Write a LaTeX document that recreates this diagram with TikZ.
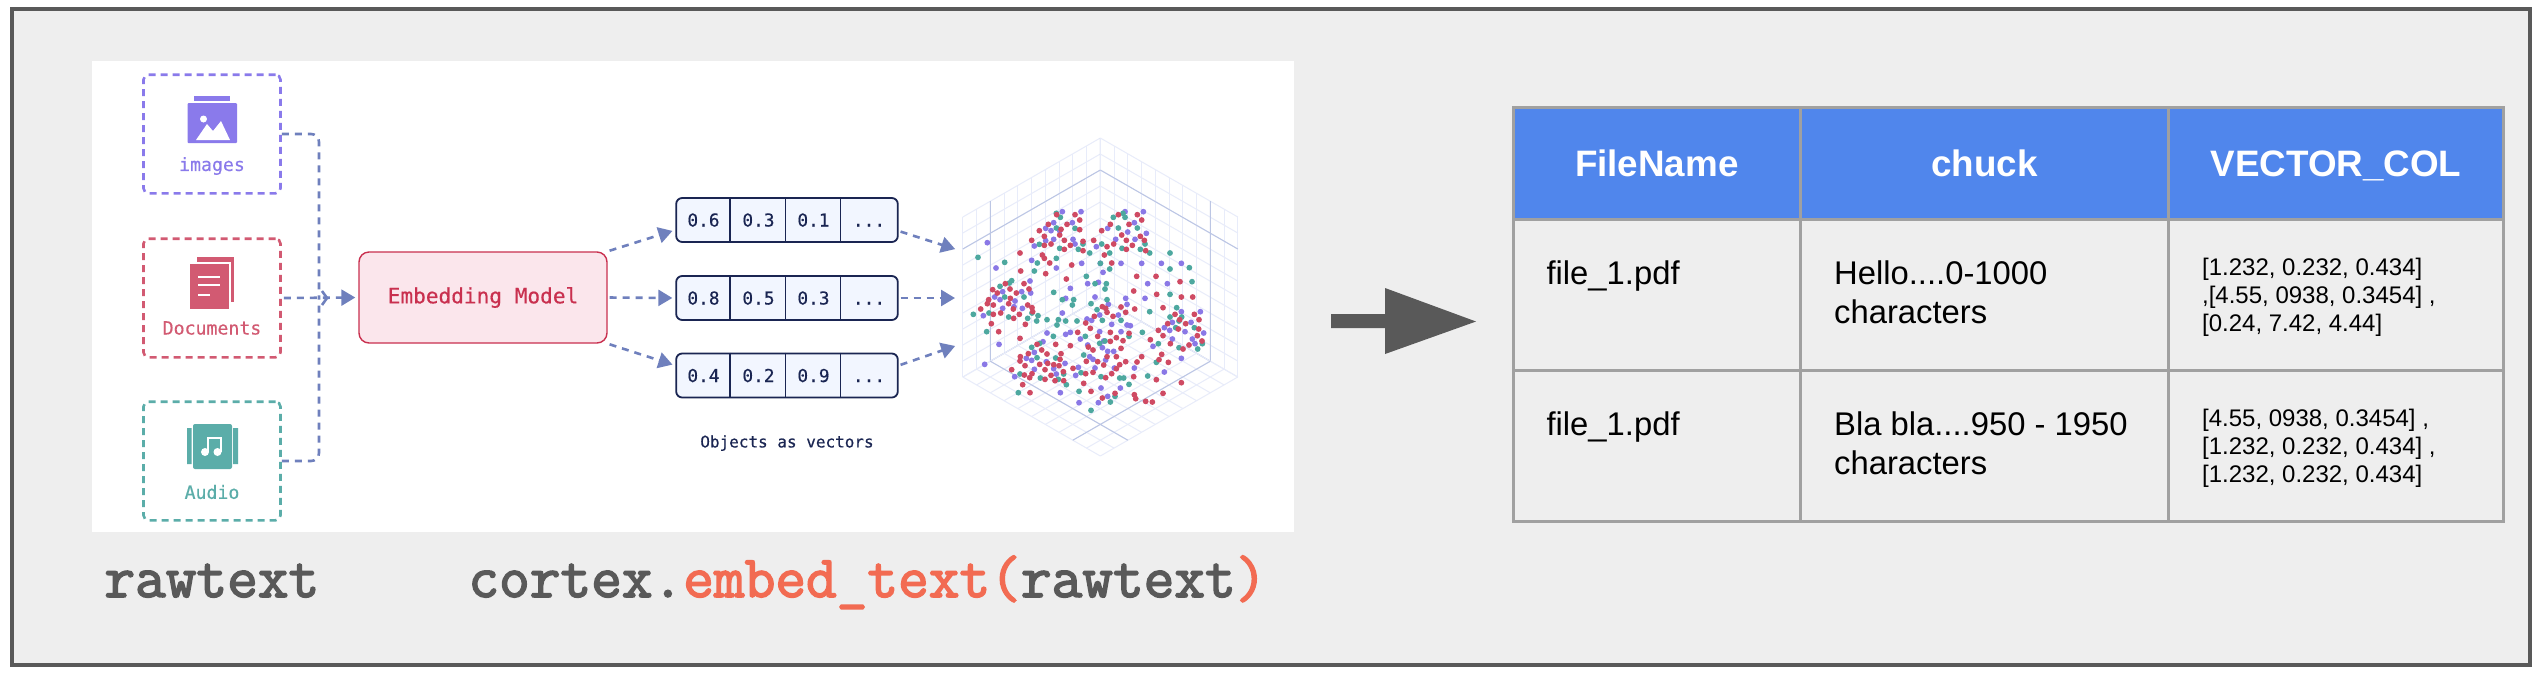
\documentclass[tikz,border=0pt]{standalone}
\usepackage{fontspec}
\usepackage{xcolor}
\usetikzlibrary{arrows.meta, positioning}
\setmainfont{Liberation Sans}
\newfontfamily\boxfont[FakeBold=0.4]{DejaVu Sans Mono}
\newfontfamily\codefont[FakeBold=2.6]{Latin Modern Mono}
\definecolor{panelGray}{HTML}{EEEEEE}
\definecolor{frameGray}{HTML}{595959}
\definecolor{lineGray}{HTML}{A0A0A0}
\definecolor{headBlue}{HTML}{5086EC}
\definecolor{codeRed}{HTML}{F26B52}
\definecolor{flowBlue}{HTML}{6F80BD}
\definecolor{imgPurple}{HTML}{8A7AEB}
\definecolor{docRed}{HTML}{D25A72}
\definecolor{audTeal}{HTML}{5BADA9}
\definecolor{modelRed}{HTML}{C9304F}
\definecolor{modelFill}{HTML}{FBE6EC}
\definecolor{vecNavy}{HTML}{1A2552}
\definecolor{vecFill}{HTML}{F2F6FF}
\definecolor{gridFaint}{HTML}{E8ECFA}
\definecolor{gridStrong}{HTML}{BCC6E4}
\definecolor{dotPurple}{HTML}{8A78E6}
\definecolor{dotTeal}{HTML}{4DA89F}
\definecolor{dotRed}{HTML}{CF4A63}

\begin{document}
% all coordinates are pixels of the picture, y going down
\begin{tikzpicture}[
    x=0.5pt, y=-0.5pt,
    source/.style={draw, rounded corners=2.5pt, line width=1.3pt, dash pattern=on 3.5pt off 2.5pt, minimum width=68.5pt, minimum height=59.3pt},
    srclabel/.style={font=\boxfont\fontsize{9.1}{11}\selectfont, inner sep=0pt},
    flow/.style={draw=flowBlue, line width=1.3pt, dash pattern=on 3.5pt off 3pt},
    flowtip/.style={flow, -{Triangle[length=7pt,width=8pt]}, shorten >=1.5pt, shorten <=1pt},
    vecbox/.style={draw=vecNavy, fill=vecFill, line width=0.9pt, rounded corners=3pt, minimum width=110.8pt, minimum height=22pt},
    vecval/.style={font=\boxfont\fontsize{8.9}{11}\selectfont, text=vecNavy, inner sep=0pt, text height=6.5pt, text depth=0pt},
    cell/.style={draw=lineGray, line width=1.5pt, minimum height=75.5pt, inner sep=0pt},
    headcell/.style={cell, fill=headBlue, minimum height=56pt, text=white, text height=13.2pt, text depth=0pt, font=\bfseries\fontsize{18.4}{22}\selectfont},
    celltext/.style={anchor=north west, align=left, inner sep=0pt, font=\fontsize{16.4}{19.7}\selectfont},
    vectext/.style={anchor=north west, align=left, inner sep=0pt, font=\fontsize{12}{14}\selectfont},
    code/.style={anchor=base west, inner sep=0pt, text=frameGray, font=\codefont\fontsize{29.8}{32}\selectfont},
]
    \useasboundingbox (0,0) rectangle (2536,676);
    \node[draw=frameGray, fill=panelGray, line width=2pt, minimum width=1258.75pt, minimum height=328pt, inner sep=0pt] (frame) at (1270.75,337) {};
    \node[fill=white, minimum width=601pt, minimum height=235.5pt, inner sep=0pt] (panel) at (693,296.5) {};

    % sources
    \node[source, draw=imgPurple] (imgbox) at (212,134) {};
    \node[source, draw=docRed] (docbox) at (212,298) {};
    \node[source, draw=audTeal] (audbox) at (212,461) {};
    \node[srclabel, text=imgPurple] (imglabel) at (212,166) {images};
    \node[srclabel, text=docRed] (doclabel) at (212,328) {Documents};
    \node[srclabel, text=audTeal] (audlabel) at (212,492) {Audio};

    % image icon
    \fill[imgPurple] (194,96) rectangle (230,101);
    \fill[imgPurple, rounded corners=0.5pt] (187.5,103) rectangle (237,143);
    \fill[white] (203.5,119) circle (3.5);
    \fill[white] (196,140) -- (207,124) -- (213,131) -- (221,121) -- (230,140) -- cycle;
    % document icon
    \fill[docRed] (197,257) rectangle (234,302);
    \fill[white] (188.5,262) rectangle (230.5,311);
    \fill[docRed] (190,264) rectangle (229,309);
    \draw[white, line width=0.9pt] (198,277) -- (220,277) (198,285) -- (220,285) (198,295) -- (210,295);
    % audio icon
    \fill[audTeal] (187,428) rectangle (191.5,464) (233,428) rectangle (238,464);
    \fill[audTeal, rounded corners=1pt] (193,424) rectangle (232,469);
    \fill[white] (205,452) circle (4) (217.5,452) circle (4);
    \draw[white, line width=1pt] (208,452) -- (208,438) -- (221,438) -- (221,452);

    % model
    \node[draw=modelRed, fill=modelFill, line width=0.7pt, rounded corners=5pt, minimum width=124pt, minimum height=45.5pt, text=modelRed, font=\boxfont\fontsize{10.55}{13}\selectfont] (embed) at (483,297.5) {Embedding Model};

    \coordinate (merge) at (319,298);
    \draw[flow, rounded corners=4pt] (imgbox.east) -| (merge);
    \draw[flow, rounded corners=4pt] (audbox.east) -| (merge);
    \draw[flowtip] (docbox.east) -- (embed.west);
    \draw[flowBlue, line width=1.3pt] ([shift={(3,-7)}]merge) -- ([shift={(8,0)}]merge) -- ([shift={(3,7)}]merge);

    % vectors
    \foreach \row/\y/\a/\b/\c in {1/220/0.6/0.3/0.1, 2/298/0.8/0.5/0.3, 3/375.5/0.4/0.2/0.9} {
        \node[vecbox] (vec\row) at (787,\y) {};
        \draw[vecNavy, line width=0.7pt] ([xshift=27.3pt]vec\row.north west) -- ([xshift=27.3pt]vec\row.south west)
            ([xshift=55pt]vec\row.north west) -- ([xshift=55pt]vec\row.south west)
            ([xshift=82.6pt]vec\row.north west) -- ([xshift=82.6pt]vec\row.south west);
        \node[vecval] (val\row a) at (703.5,\y) {\a};
        \node[vecval] (val\row b) at (758.5,\y) {\b};
        \node[vecval] (val\row c) at (813.5,\y) {\c};
        \node[vecval] (val\row d) at (869,\y) {...};
    }
    \node[font=\boxfont\fontsize{8}{10}\selectfont, text=vecNavy, inner sep=0pt] (veccaption) at (787,443) {Objects as vectors};

    % scatter grid
    \coordinate (back) at (1100.3,298);
    \begin{scope}[shift={(back)}, x={(-6.875pt,-3.95pt)}, y={(0pt,8pt)}, gridFaint, line width=0.5pt]
        \foreach \i in {0,...,10} {
            \draw (\i,0) -- (\i,10);
            \draw (0,\i) -- (10,\i);
        }
        \draw[gridStrong] (0,8) -- (10,8) (8,0) -- (8,10) (0,0) -- (0,10) (0,0) -- (8,0);
    \end{scope}
    \begin{scope}[shift={(back)}, x={(6.875pt,-3.95pt)}, y={(0pt,8pt)}, gridFaint, line width=0.5pt]
        \foreach \i in {0,...,10} {
            \draw (\i,0) -- (\i,10);
            \draw (0,\i) -- (10,\i);
        }
        \draw[gridStrong] (0,8) -- (10,8) (8,0) -- (8,10) (0,0) -- (8,0);
    \end{scope}
    \begin{scope}[shift={(back)}, x={(-6.875pt,-3.95pt)}, y={(6.875pt,-3.95pt)}, gridFaint, line width=0.5pt]
        \foreach \i in {0,...,10} {
            \draw (\i,0) -- (\i,10);
            \draw (0,\i) -- (10,\i);
        }
        \draw[gridStrong] (8,0) -- (8,10) (0,8) -- (10,8);
    \end{scope}

    % scatter dots, read off at three times the size
    \begin{scope}[shift={(940,130)}, x=0.16667pt, y=-0.16667pt]
        \foreach \p in {(142,338),(168,414),(275,391),(349,414),(367,245),(423,245),(341,278),(397,278),(317,295),(333,302),(359,302),(341,328),(399,328),(317,332),(405,342),(283,348),(425,400),(391,475),(443,461),(475,457),(377,505),(465,501),(367,549),(270,453),(272,489),(245,485),(188,485),(164,501),(180,509),(225,513),(130,557),(222,530),(247,535),(188,535),(321,609),(377,613),(391,607),(421,627),(441,567),(455,571),(479,555),(505,523),(561,523),(557,505),(535,555),(515,583),(543,605),(479,605),(491,633),(561,585),(571,587),(610,245),(555,245),(583,278),(503,295),(563,306),(527,328),(585,328),(619,310),(469,350),(543,400),(605,400),(489,427),(481,400),(664,400),(724,400),(623,461),(682,461),(615,505),(724,545),(781,545),(753,577),(673,593),(697,577),(689,601),(735,605),(791,609),(697,627),(757,627),(765,641),(639,649),(724,685),(673,726),(177,643),(134,703),(224,740),(309,635),(283,667),(259,685),(275,691),(319,695),(375,700),(283,718),(349,732),(341,716),(415,712),(465,714),(407,736),(523,714),(583,714),(541,774),(483,774),(503,799),(475,818),(417,818),(361,788),(449,680),(459,688),(503,664),(487,653),(443,645),(521,664),(497,690)}
            \fill[dotPurple] \p circle (1.45pt);
        \foreach \p in {(114,382),(194,397),(292,399),(349,385),(283,423),(439,439),(465,461),(499,461),(495,477),(341,487),(367,509),(401,509),(397,525),(509,417),(481,400),(449,369),(509,369),(690,369),(690,417),(748,413),(756,455),(690,493),(629,545),(710,533),(690,561),(453,521),(501,509),(180,469),(194,501),(208,459),(215,452),(252,501),(100,553),(147,549),(140,605),(206,561),(263,565),(276,549),(294,557),(290,573),(321,569),(355,569),(351,585),(377,573),(411,573),(340,619),(298,343),(359,355),(405,295),(361,262),(349,294),(349,250),(415,358),(429,342),(485,342),(546,355),(520,262),(535,294),(592,294),(601,358),(615,342),(629,369),(549,250),(555,262),(471,539),(487,571),(543,571),(607,607),(436,619),(495,633),(479,640),(567,619),(655,641),(717,653),(773,657),(787,641),(763,593),(707,593),(717,573),(725,561),(649,697),(623,738),(567,763),(539,744),(483,740),(423,728),(431,675),(347,684),(291,683),(299,640),(275,652),(240,732),(301,744),(355,748),(379,764),(235,788),(371,732),(417,784),(511,816),(525,799),(453,841),(551,744)}
            \fill[dotTeal] \p circle (1.45pt);
        \foreach \p in {(240,369),(275,331),(298,302),(313,319),(325,283),(350,254),(381,283),(405,254),(419,270),(363,298),(359,315),(373,331),(419,299),(429,334),(391,346),(373,358),(313,346),(333,342),(307,375),(313,385),(329,399),(395,405),(317,431),(379,447),(242,423),(252,461),(267,477),(229,489),(158,479),(172,489),(196,461),(210,477),(211,505),(146,509),(142,521),(160,525),(122,537),(160,553),(182,549),(206,521),(220,537),(238,553),(221,565),(263,525),(276,533),(278,545),(154,581),(176,605),(256,583),(240,625),(485,302),(511,283),(535,254),(592,254),(605,270),(567,283),(545,315),(559,331),(601,319),(613,331),(617,362),(577,346),(559,358),(521,342),(501,350),(429,362),(461,331),(493,375),(515,399),(590,439),(648,439),(720,455),(581,483),(650,493),(724,501),(758,501),(584,537),(669,533),(543,531),(557,547),(497,535),(487,530),(501,547),(519,559),(463,559),(437,579),(451,595),(413,607),(511,607),(473,619),(529,623),(549,632),(567,610),(631,629),(655,601),(669,617),(683,581),(705,553),(719,569),(737,581),(763,553),(777,569),(715,597),(776,597),(772,617),(786,633),(747,645),(729,657),(691,641),(665,673),(657,689),(685,697),(605,680),(591,696),(557,695),(511,634),(543,655),(529,680),(501,680),(473,695),(445,651),(459,660),(439,694),(291,643),(265,671),(241,680),(240,693),(215,719),(255,707),(305,660),(299,703),(321,672),(323,700),(315,719),(341,704),(360,688),(357,707),(370,725),(333,736),(315,748),(253,735),(269,743),(276,731),(248,764),(270,788),(345,752),(371,752),(431,760),(453,784),(399,715),(437,731),(459,727),(491,705),(497,743),(515,731),(529,716),(539,704),(581,740),(649,749),(724,758),(669,790),(637,816),(617,814),(587,806),(583,794),(525,790),(487,804),(391,647),(347,643),(363,671)}
            \fill[dotRed] \p circle (1.45pt);
    \end{scope}

    % flows round the vectors
    \coordinate (in1) at (958,250);
    \coordinate (in2) at (958,298);
    \coordinate (in3) at (958,345);
    \draw[flowtip] (embed.north east) -- ([yshift=-5pt]vec1.west);
    \draw[flowtip] (embed.east) -- (vec2.west);
    \draw[flowtip] (embed.south east) -- ([yshift=5pt]vec3.west);
    \draw[flowtip] ([yshift=-5.5pt]vec1.east) -- (in1);
    \draw[flowtip] (vec2.east) -- (in2);
    \draw[flowtip] ([yshift=5pt]vec3.east) -- (in3);

    % code line
    \node[code] (rawtext) at (104,597) {rawtext};
    \node[code] (embedcall) at (468,597) {cortex.\textcolor{codeRed}{embed\_text(}rawtext\textcolor{codeRed}{)}};

    % big arrow
    \fill[frameGray] (1331,314) -- (1385,314) -- (1385,288) -- (1476,321.5) -- (1385,354) -- (1385,328) -- (1331,328) -- cycle;

    % table
    \node[headcell, minimum width=143.8pt] (headfile) at (1656.8,163) {FileName};
    \node[headcell, minimum width=184pt] (headchunk) at (1984.6,163) {chuck};
    \node[headcell, minimum width=167.4pt] (headvec) at (2336,163) {VECTOR\_COL};
    \foreach \row/\y in {1/294.5, 2/445.5} {
        \node[cell, minimum width=143.8pt] (file\row) at (1656.8,\y) {};
        \node[cell, minimum width=184pt] (chunk\row) at (1984.6,\y) {};
        \node[cell, minimum width=167.4pt] (vecc\row) at (2336,\y) {};
        \node[celltext] (filetext\row) at ([shift={(17.3pt,-21.4pt)}]file\row.north west) {file\_1.pdf};
    }
    \node[celltext] (chunktext1) at ([shift={(17.3pt,-21.4pt)}]chunk1.north west) {Hello....0-1000\\characters};
    \node[celltext] (chunktext2) at ([shift={(17.3pt,-21.4pt)}]chunk2.north west) {Bla bla....950 - 1950\\characters};
    \node[vectext] (vectext1) at ([shift={(17.3pt,-20pt)}]vecc1.north west) {{[}1.232, 0.232, 0.434]\\,[4.55, 0938, 0.3454] ,\\{[}0.24, 7.42, 4.44]};
    \node[vectext] (vectext2) at ([shift={(17.3pt,-20pt)}]vecc2.north west) {{[}4.55, 0938, 0.3454] ,\\{[}1.232, 0.232, 0.434] ,\\{[}1.232, 0.232, 0.434]};
\end{tikzpicture}
\end{document}
